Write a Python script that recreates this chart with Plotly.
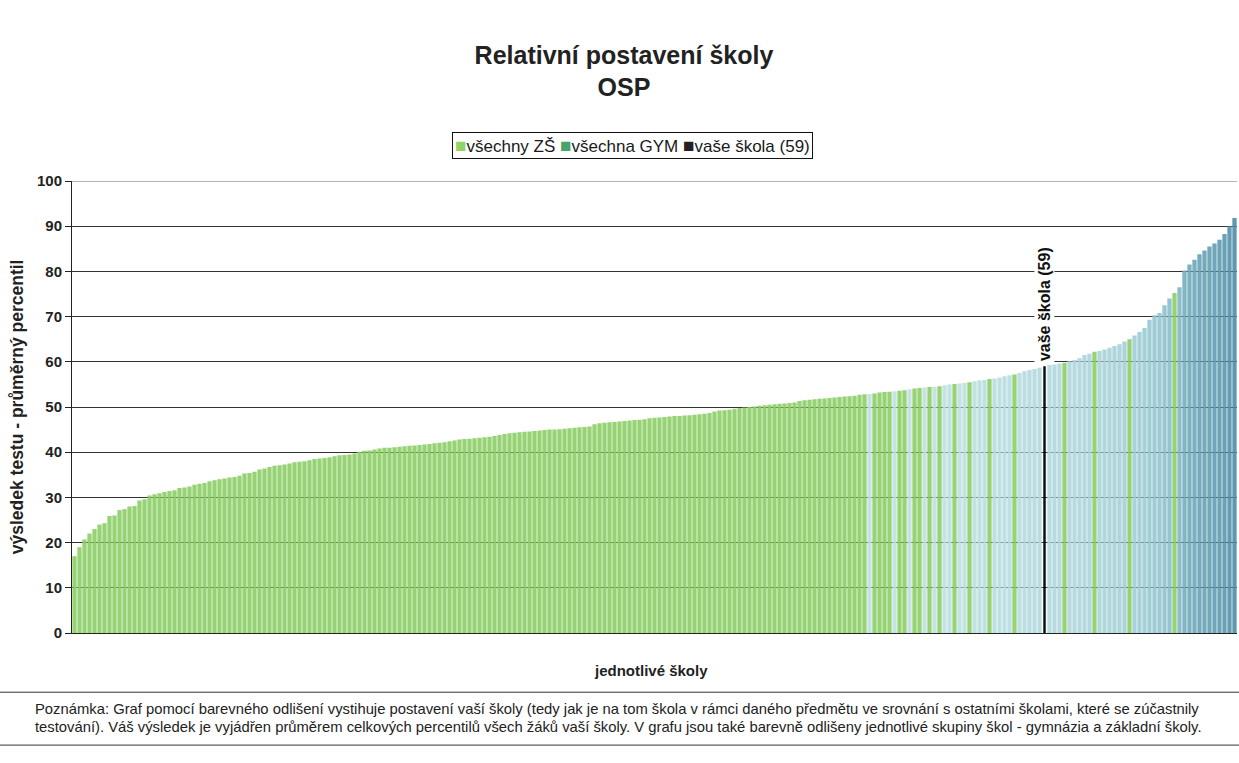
import plotly.graph_objects as go

# průměrný percentil školy, seřazeno vzestupně
percentil = [
    17, 19, 20.7, 22, 23, 24, 24.3, 25.9, 26, 27.2,
    27.4, 28, 28.1, 29.3, 29.6, 30.4, 30.7, 30.9, 31.2, 31.4,
    31.6, 32.1, 32.2, 32.4, 32.8, 33, 33.2, 33.6, 33.8, 34,
    34.2, 34.4, 34.5, 34.8, 35.3, 35.4, 35.7, 36.2, 36.4, 36.7,
    37, 37.1, 37.3, 37.5, 37.8, 37.9, 38, 38.2, 38.5, 38.6,
    38.7, 38.9, 39.1, 39.3, 39.4, 39.5, 39.7, 40.1, 40.3, 40.4,
    40.6, 40.8, 41, 41, 41.1, 41.2, 41.3, 41.4, 41.5, 41.6,
    41.7, 41.8, 42, 42.1, 42.2, 42.4, 42.6, 42.8, 42.9, 43,
    43.1, 43.2, 43.3, 43.4, 43.6, 43.8, 44, 44.2, 44.3, 44.4,
    44.5, 44.6, 44.7, 44.8, 44.9, 45, 45, 45.1, 45.2, 45.3,
    45.4, 45.5, 45.6, 45.7, 46.2, 46.4, 46.5, 46.6, 46.7, 46.8,
    46.9, 47, 47.1, 47.2, 47.3, 47.5, 47.6, 47.7, 47.8, 47.9,
    48, 48, 48.1, 48.2, 48.3, 48.4, 48.5, 48.7, 49, 49.2,
    49.3, 49.4, 49.6, 49.8, 49.9, 50, 50.1, 50.3, 50.4, 50.5,
    50.6, 50.7, 50.8, 50.9, 51, 51.3, 51.5, 51.6, 51.7, 51.8,
    51.9, 52, 52.1, 52.2, 52.3, 52.4, 52.5, 52.7, 52.8, 52.9,
    53, 53.2, 53.3, 53.4, 53.5, 53.6, 53.7, 53.9, 54.1, 54.2,
    54.3, 54.4, 54.5, 54.6, 54.8, 55, 55.1, 55.2, 55.3, 55.5,
    55.7, 55.9, 56, 56.2, 56.3, 56.5, 56.8, 57, 57.2, 57.5,
    57.9, 58.2, 58.4, 58.7, 59, 59.3, 59.4, 59.6, 59.8, 60.1,
    60.4, 60.8, 61.5, 61.8, 62.2, 62.4, 62.7, 63.1, 63.5, 63.9,
    64.5, 65, 65.8, 66.6, 67.5, 69.3, 70.3, 70.8, 72.5, 74,
    75.2, 76.5, 80.2, 81.5, 82.6, 83.8, 84.6, 85.5, 86.2, 87,
    88.3, 90, 91.8,
]

# pořadí škol, které jsou gymnázia
poradi_gym = [
    160, 165, 168, 171, 173, 175, 176, 178, 179, 181, 182, 183,
    185, 186, 187, 188, 190, 191, 192, 193, 194, 196, 197, 198,
    200, 201, 202, 203, 204, 206, 207, 208, 209, 210, 211, 213,
    214, 215, 216, 217, 218, 219, 220, 222, 223, 224, 225, 226,
    227, 228, 229, 230, 231, 232, 233,
]
vase_skola = 195

legenda = ["všechny ZŠ", "všechna GYM", "vaše škola (59)"]
barvy_legendy = ["#8ed466", "#4aa36e", "#222222"]

poradi = list(range(1, len(percentil) + 1))
zs_x = [i for i in poradi if i not in poradi_gym and i != vase_skola]
zs_y = [percentil[i - 1] for i in zs_x]
gym_y = [percentil[i - 1] for i in poradi_gym]

FONT = "Liberation Sans, Arial, sans-serif"

fig = go.Figure()

fig.add_trace(go.Bar(
    x=zs_x, y=zs_y, marker_color="#8ccf66", marker_line_width=0,
    opacity=0.9, name=legenda[0], hoverinfo="y"
))
fig.add_trace(go.Bar(
    x=poradi_gym, y=gym_y, marker_line_width=0, opacity=0.9,
    marker=dict(color=gym_y, colorscale=[[0, "#bfe1e3"], [0.45, "#92c6d0"], [1, "#4d8da6"]],
                cmin=54, cmax=92),
    name=legenda[1], hoverinfo="y"
))
fig.add_trace(go.Bar(
    x=[vase_skola], y=[percentil[vase_skola - 1]], width=[0.5],
    marker_color="#111111", marker_line_width=0, name=legenda[2], hoverinfo="y"
))

fig.update_layout(
    width=1239, height=763,
    margin=dict(l=72, r=2, t=181, b=130),
    paper_bgcolor="white", plot_bgcolor="white",
    barmode="overlay", bargap=0.14,
    font=dict(family=FONT, color="#1a1a1a"),
    title=dict(
        text="<b>Relativní postavení školy<br>OSP</b>",
        x=0.5036, xanchor="center", xref="container",
        y=0.9165, yanchor="middle", yref="container",
        font=dict(size=25, color="#222222")
    ),
    showlegend=False,
)

fig.update_xaxes(
    range=[0.5, len(percentil) + 0.5], showticklabels=False, showgrid=False,
    showline=True, linecolor="#222222", linewidth=1, ticks="", zeroline=False
)
fig.update_yaxes(
    range=[0, 100], tickvals=list(range(0, 101, 10)),
    showgrid=True, gridcolor="#333333", gridwidth=1,
    showline=True, linecolor="#222222", linewidth=1,
    ticks="outside", ticklen=6, tickcolor="#222222",
    tickfont=dict(size=15, weight="bold", color="#222222"),
    zeroline=False
)

# horní linka na 100
fig.add_shape(type="line", xref="paper", yref="y", x0=0, x1=1, y0=100, y1=100,
              line=dict(color="#9896ad", width=1.5), layer="above")

# legenda v rámečku
legenda_text = " ".join(
    f"<span style='color:{c};font-size:19px'>■</span>{t}" for t, c in zip(legenda, barvy_legendy)
)
fig.add_annotation(
    text=legenda_text, x=0.4807, y=1.0796, xref="paper", yref="paper",
    xanchor="center", yanchor="middle", showarrow=False,
    bordercolor="#111111", borderwidth=1, borderpad=2, bgcolor="white",
    font=dict(size=17, color="#1a1a1a")
)

fig.add_annotation(
    text="<b>vaše škola (59)</b>", x=vase_skola, y=percentil[vase_skola - 1] + 0.6,
    xref="x", yref="y", textangle=-90, xanchor="center", yanchor="bottom",
    showarrow=False, bgcolor="white", font=dict(size=16, color="#111111")
)
fig.add_annotation(
    text="<b>výsledek testu - průměrný percentil</b>", x=-0.047, y=0.5,
    xref="paper", yref="paper", textangle=-90, xanchor="center", yanchor="middle",
    showarrow=False, font=dict(size=17.5, color="#222222")
)
fig.add_annotation(
    text="<b>jednotlivé školy</b>", x=0.497, y=-0.082, xref="paper", yref="paper",
    xanchor="center", yanchor="middle",
    showarrow=False, font=dict(size=15, color="#222222")
)

# poznámka pod grafem
fig.add_shape(type="line", xref="paper", yref="paper", x0=-0.062, x1=1.002,
              y0=-0.131, y1=-0.131, line=dict(color="#333333", width=1))
fig.add_shape(type="line", xref="paper", yref="paper", x0=-0.062, x1=1.002,
              y0=-0.248, y1=-0.248, line=dict(color="#333333", width=1))
fig.add_annotation(
    text="Poznámka: Graf pomocí barevného odlišení vystihuje postavení vaší školy "
         "(tedy jak je na tom škola v rámci daného předmětu ve srovnání s ostatními "
         "školami, které se zúčastnily",
    x=-0.0335, y=-0.168, xref="paper", yref="paper", xanchor="left", yanchor="middle",
    showarrow=False, font=dict(size=14.8, color="#222222")
)
fig.add_annotation(
    text="testování). Váš výsledek je vyjádřen průměrem celkových percentilů všech "
         "žáků vaší školy. V grafu jsou také barevně odlišeny jednotlivé skupiny škol "
         "- gymnázia a základní školy.",
    x=-0.0335, y=-0.208, xref="paper", yref="paper", xanchor="left", yanchor="middle",
    showarrow=False, font=dict(size=14.8, color="#222222")
)

fig.write_html("out.html", config={"displayModeBar": False},
               post_script="document.body.style.margin='0';")
